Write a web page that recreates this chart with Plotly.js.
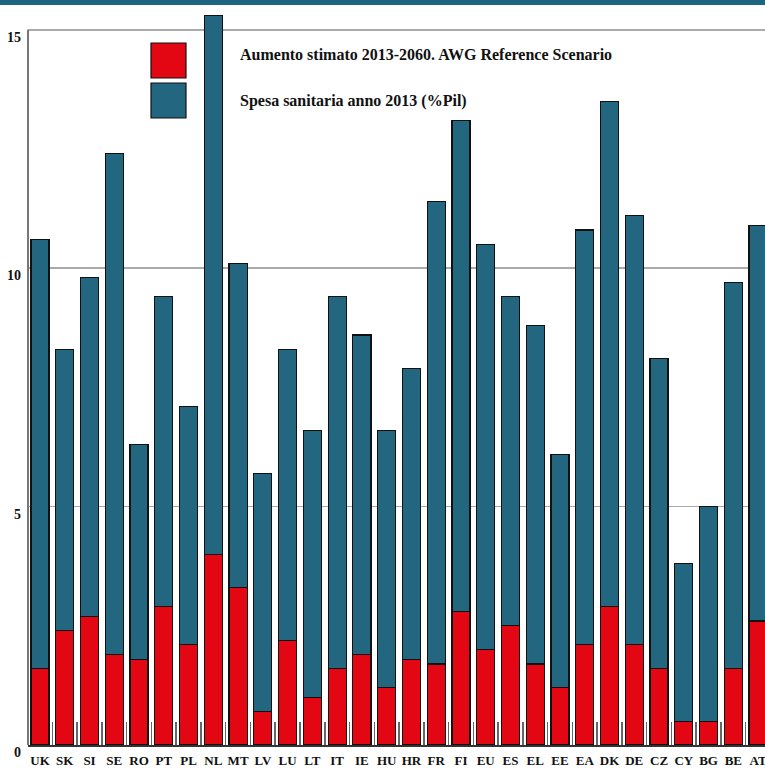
<!DOCTYPE html>
<html>
<head>
<meta charset="utf-8">
<script src="https://cdn.plot.ly/plotly-3.0.1.min.js"></script>
<style>
  html, body { margin: 0; padding: 0; background: #ffffff; }
  #chart { width: 765px; height: 771px; }
</style>
</head>
<body>
<div id="chart"></div>
<script>
// Categories (countries / aggregates)
const countries = ["UK","SK","SI","SE","RO","PT","PL","NL","MT","LV","LU","LT","IT","IE","HU",
                   "HR","FR","FI","EU","ES","EL","EE","EA","DK","DE","CZ","CY","BG","BE","AT"];

// Aumento stimato 2013-2060 (red, bottom segment)
const aumento = [1.6, 2.4, 2.7, 1.9, 1.8, 2.9, 2.1, 4.0, 3.3, 0.7, 2.2, 1.0, 1.6, 1.9, 1.2,
                 1.8, 1.7, 2.8, 2.0, 2.5, 1.7, 1.2, 2.1, 2.9, 2.1, 1.6, 0.5, 0.5, 1.6, 2.6];

// Spesa sanitaria anno 2013 (blue, upper segment)
const spesa = [9.0, 5.9, 7.1, 10.5, 4.5, 6.5, 5.0, 11.3, 6.8, 5.0, 6.1, 5.6, 7.8, 6.7, 5.4,
               6.1, 9.7, 10.3, 8.5, 6.9, 7.1, 4.9, 8.7, 10.6, 9.0, 6.5, 3.3, 4.5, 8.1, 8.3];

// Axis ticks
const yTickVals = [0, 5, 10, 15];
const yTickText = ["0", "5", "10", "15"];

const legendLabels = ["Aumento stimato 2013-2060. AWG Reference Scenario",
                      "Spesa sanitaria anno 2013 (%Pil)"];

const RED = "#E30613";
const BLUE = "#22667F";
const FONT = "Liberation Serif, Times New Roman, serif";

const traces = [
  {
    type: "bar", x: countries, y: aumento, name: legendLabels[0],
    marker: { color: RED, line: { color: "#111", width: 1.2 } },
    hoverinfo: "x+y"
  },
  {
    type: "bar", x: countries, y: spesa, name: legendLabels[1],
    marker: { color: BLUE, line: { color: "#111", width: 1.2 } },
    hoverinfo: "x+y"
  }
];

const layout = {
  width: 765, height: 771,
  margin: { l: 28, r: 0, t: 5, b: 26, pad: 0 },
  paper_bgcolor: "#ffffff", plot_bgcolor: "#ffffff",
  barmode: "stack", bargap: 0.27,
  showlegend: false,
  font: { family: FONT, color: "#111", size: 14, weight: 700 },
  xaxis: {
    type: "category",
    range: [-0.485, 29.28],
    showgrid: false, zeroline: false,
    showline: true, linecolor: "#333", linewidth: 1.5,
    ticks: "inside", tickson: "boundaries", ticklen: 23, tickwidth: 1.5, tickcolor: "#666",
    tickangle: 0,
    tickfont: { family: FONT, size: 13, color: "#111", weight: 700 },
    ticklabelstandoff: 3,
    fixedrange: true
  },
  yaxis: {
    range: [0, 15.52],
    tickvals: yTickVals, ticktext: yTickText,
    showgrid: true, gridcolor: "#aaaaaa", gridwidth: 1.5,
    zeroline: false, showline: false, ticks: "",
    tickfont: { family: FONT, size: 14, color: "#111", weight: 700 },
    ticklabelstandoff: 6, ticklabelshift: 7,
    fixedrange: true
  },
  shapes: [
    // top band
    { type: "rect", xref: "paper", yref: "paper", x0: -0.05, x1: 1.05, y0: 1.0, y1: 1.02,
      fillcolor: "#1F6480", line: { width: 0 }, layer: "above" },
    // y axis line (from 0 to 15)
    { type: "line", xref: "paper", yref: "y", x0: 0, x1: 0, y0: 0, y1: 15,
      line: { color: "#777", width: 2 }, layer: "above" },
    // legend swatches
    { type: "rect", xref: "paper", yref: "paper",
      x0: (151 - 28) / 737, x1: (186 - 28) / 737, y0: (745 - 78) / 740, y1: (745 - 43) / 740,
      fillcolor: RED, line: { color: "#111", width: 1.2 }, layer: "above" },
    { type: "rect", xref: "paper", yref: "paper",
      x0: (151 - 28) / 737, x1: (186 - 28) / 737, y0: (745 - 118) / 740, y1: (745 - 83) / 740,
      fillcolor: BLUE, line: { color: "#111", width: 1.2 }, layer: "above" }
  ],
  annotations: [
    { xref: "paper", yref: "paper", x: (238 - 28) / 737, y: (745 - 55) / 740,
      xanchor: "left", yanchor: "middle", showarrow: false, text: legendLabels[0],
      font: { family: FONT, size: 16, color: "#111", weight: 700 } },
    { xref: "paper", yref: "paper", x: (238 - 28) / 737, y: (745 - 101) / 740,
      xanchor: "left", yanchor: "middle", showarrow: false, text: legendLabels[1],
      font: { family: FONT, size: 16, color: "#111", weight: 700 } }
  ]
};

Plotly.newPlot("chart", traces, layout, { displayModeBar: false, staticPlot: true });
</script>
</body>
</html>
